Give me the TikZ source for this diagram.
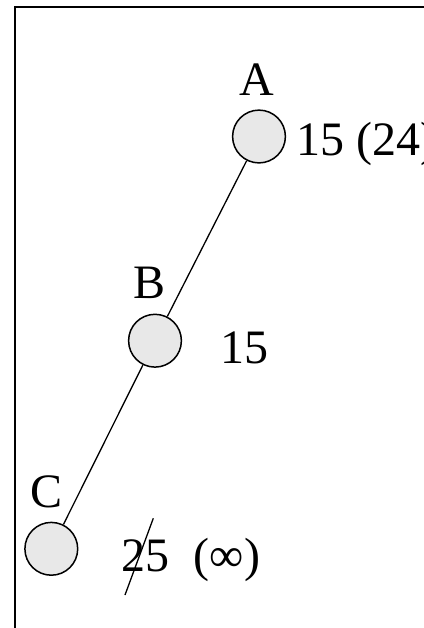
\documentclass[tikz,border=0pt]{standalone}
\usepackage{fontspec}
\setmainfont{Liberation Serif}
\tikzset{
    vertex/.style={circle,draw,line width=0.75pt,fill=gray!18,minimum size=26.4pt,inner sep=0pt},
    lbl/.style={anchor=base,inner sep=0pt,font=\fontsize{24}{28}\selectfont},
    cost/.style={anchor=base west,inner sep=0pt,font=\fontsize{24}{28}\selectfont},
}
\begin{document}
\begin{tikzpicture}[x=0.5pt,y=-0.5pt]
    \useasboundingbox (0,0) rectangle (424,628);
    \clip (0,0) rectangle (424,628);
    % frame, cut by the page on the right and at the bottom
    \draw[line width=1pt] (15,640) -- (15,6.5) -- (440,6.5);
        \node[vertex] (A) at (259,136.5) {};
        \node[vertex] (B) at (155,340.7) {};
        \node[vertex] (C) at (51.3,548.8) {};
        \node[lbl] (labA) at (257,95) {A};
        \node[lbl] (labB) at (149.5,298) {B};
        \node[lbl] (labC) at (47,507) {C};
        \node[cost] (costA) at (296,155) {15 (24)};
        \node[cost] (costB) at (220.5,363) {15};
        \node[cost] (costC) at (121.5,571.7) {25~~(∞)};
          \draw[line width=0.65pt] (A) -- (B);
          \draw[line width=0.65pt] (B) -- (C);
        % the old value is struck out
        \coordinate (strikeTop) at (153.3,518.3);
        \coordinate (strikeBot) at (125,595);
          \draw[line width=0.65pt] (strikeTop) -- (strikeBot);
\end{tikzpicture}
\end{document}
